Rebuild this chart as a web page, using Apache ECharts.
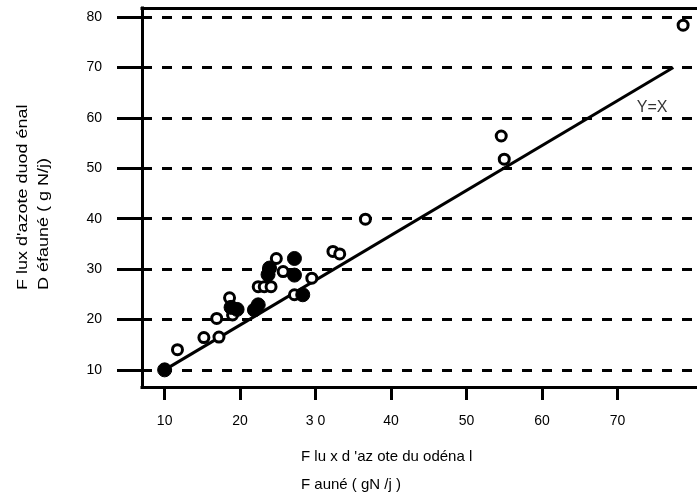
<!DOCTYPE html>
<html><head><meta charset="utf-8">
<script src="https://cdn.jsdelivr.net/npm/echarts@6/dist/echarts.min.js"></script>
<style>html,body{margin:0;padding:0;background:#fff}#c{width:697px;height:501px}</style>
</head><body><div id="c"></div>
<script>
// ---- data ----
const yTicks = [10, 20, 30, 40, 50, 60, 70, 80];
const xTicks = [10, 20, 30, 40, 50, 60, 70];
const xTickLabels = ['10', '20', '3 0', '40', '50', '60', '70'];
const openPoints = [
  [11.7, 14.0], [15.2, 16.4], [17.2, 16.5], [16.9, 20.2], [18.6, 24.3],
  [19.0, 20.9], [22.4, 26.5], [23.2, 26.5], [24.1, 26.5], [24.8, 32.1],
  [25.7, 29.5], [27.2, 24.9], [29.5, 28.2], [32.3, 33.5], [33.2, 33.0],
  [36.6, 39.9], [54.6, 56.4], [55.0, 51.8], [78.7, 78.4]
];
const filledPoints = [
  [10.0, 10.0], [18.8, 22.4], [19.6, 22.0], [21.9, 21.9], [22.4, 22.9],
  [23.9, 30.2], [23.7, 28.9], [27.2, 32.1], [27.2, 28.8], [28.3, 24.9]
];
const refLine = [[10, 10], [77.4, 70]];
const refLabel = [[74.6, 62.1]];
const refLabelText = 'Y=X';
const xTitle = ["F lu x d 'az ote du odéna l", 'F auné ( gN /j )'];
const yTitle = ["F lux d'azote duod énal", 'D éfauné ( g N/j)'];

const chart = echarts.init(document.getElementById('c'), null, {renderer: 'canvas'});
const FONT = '"Liberation Sans", Arial, sans-serif';
const frame = {color: '#000', width: 3, cap: 'square'};

chart.setOption({
  animation: false,
  backgroundColor: '#fff',
  grid: {left: 142, top: 8, right: 0, bottom: 114, show: false},
  xAxis: [{
    type: 'value', min: 7, max: 80.54, position: 'bottom',
    axisLine: {show: true, onZero: false, lineStyle: frame},
    axisTick: {show: true, customValues: xTicks, length: 13, lineStyle: {color: '#000', width: 3}},
    axisLabel: {show: true, customValues: xTicks, margin: 27, color: '#000', fontSize: 14, fontFamily: FONT,
      formatter: v => xTickLabels[xTicks.indexOf(v)] ?? ''},
    splitLine: {show: false}
  }, {
    type: 'value', min: 7, max: 80.54, position: 'top',
    axisLine: {show: true, onZero: false, lineStyle: frame},
    axisTick: {show: false}, axisLabel: {show: false}, splitLine: {show: false}
  }],
  yAxis: {
    type: 'value', min: 6.6, max: 81.8,
    axisLine: {show: true, onZero: false, lineStyle: frame},
    axisTick: {show: true, customValues: yTicks, length: 25, lineStyle: {color: '#000', width: 3}},
    axisLabel: {show: true, customValues: yTicks, margin: 40, color: '#000', fontSize: 14, fontFamily: FONT},
    splitLine: {show: false}
  },
  series: [
    {
      type: 'line', data: refLine, symbol: 'none', silent: true,
      lineStyle: {color: '#000', width: 3}, z: 3,
      markLine: {
        silent: true, symbol: 'none', label: {show: false},
        lineStyle: {color: '#000', width: 3, type: [10, 10]},
        data: yTicks.map(v => ({yAxis: v})), z: 1
      }
    },
    {
      type: 'scatter', data: openPoints, symbol: 'circle', symbolSize: 10, z: 4,
      itemStyle: {color: '#fff', borderColor: '#000', borderWidth: 3, opacity: 1}
    },
    {
      type: 'scatter', data: filledPoints, symbol: 'circle', symbolSize: 14, z: 5,
      itemStyle: {color: '#000', borderColor: '#000', borderWidth: 1, opacity: 1}
    },
    {
      type: 'scatter', data: refLabel, symbolSize: 0, silent: true, z: 6,
      label: {show: true, position: 'inside', formatter: refLabelText, color: '#000', fontSize: 16, fontFamily: FONT}
    }
  ],
  graphic: [
    {type: 'text', x: 23, y: 290, rotation: Math.PI / 2, scaleX: 1.2, scaleY: 1,
      style: {text: yTitle[0], font: '15px ' + FONT, fill: '#000', align: 'left', verticalAlign: 'middle'}},
    {type: 'text', x: 44, y: 290, rotation: Math.PI / 2, scaleX: 1.2, scaleY: 1,
      style: {text: yTitle[1], font: '15px ' + FONT, fill: '#000', align: 'left', verticalAlign: 'middle'}},
    {type: 'text', x: 301, y: 457, style: {text: xTitle[0], font: '15px ' + FONT, fill: '#000', align: 'left', verticalAlign: 'middle'}},
    {type: 'text', x: 301, y: 485, style: {text: xTitle[1], font: '15px ' + FONT, fill: '#000', align: 'left', verticalAlign: 'middle'}}
  ]
});
</script></body></html>
